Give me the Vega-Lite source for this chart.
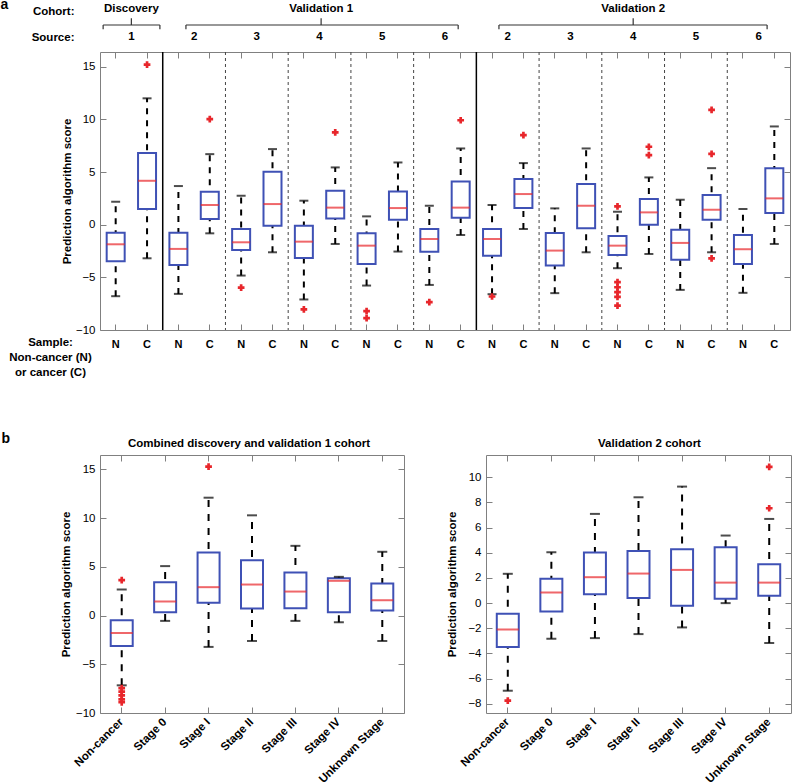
{
  "$schema": "https://vega.github.io/schema/vega-lite/v6.json",
  "padding": {"top": -3, "left": 0, "right": 0, "bottom": 0},
  "autosize": {"type": "pad"},
  "config": {
    "font": "Liberation Sans",
    "view": {"stroke": null},
    "axis": {"grid": false, "domainColor": "#808080", "tickColor": "#808080", "labelColor": "black", "titleColor": "black", "labelFont": "Liberation Sans", "titleFont": "Liberation Sans", "labelFontSize": 11.5, "domainWidth": 1, "tickWidth": 1},
    "title": {"font": "Liberation Sans", "fontSize": 11.5, "fontWeight": "bold", "color": "black"}
  },
  "datasets": {
    "boxA": [
      {"cat": "D1 N", "lo": -6.79, "q1": -3.47, "med": -1.86, "q3": -0.76, "hi": 2.18},
      {"cat": "D1 C", "lo": -3.19, "q1": 1.49, "med": 4.17, "q3": 6.82, "hi": 12.0},
      {"cat": "V1-2 N", "lo": -6.57, "q1": -3.82, "med": -2.30, "q3": -0.76, "hi": 3.67},
      {"cat": "V1-2 C", "lo": -0.82, "q1": 0.54, "med": 1.87, "q3": 3.13, "hi": 6.7},
      {"cat": "V1-3 N", "lo": -4.83, "q1": -2.40, "med": -1.67, "q3": -0.41, "hi": 2.75},
      {"cat": "V1-3 C", "lo": -2.62, "q1": -0.09, "med": 1.96, "q3": 5.02, "hi": 7.18},
      {"cat": "V1-4 N", "lo": -7.1, "q1": -3.16, "med": -1.61, "q3": -0.09, "hi": 2.28},
      {"cat": "V1-4 C", "lo": -1.83, "q1": 0.58, "med": 1.62, "q3": 3.23, "hi": 5.44},
      {"cat": "V1-5 N", "lo": -5.78, "q1": -3.73, "med": -1.99, "q3": -0.82, "hi": 0.79},
      {"cat": "V1-5 C", "lo": -2.55, "q1": 0.48, "med": 1.58, "q3": 3.16, "hi": 5.91},
      {"cat": "V1-6 N", "lo": -5.72, "q1": -2.56, "med": -1.36, "q3": -0.41, "hi": 1.8},
      {"cat": "V1-6 C", "lo": -0.98, "q1": 0.67, "med": 1.62, "q3": 4.11, "hi": 7.24},
      {"cat": "V2-2 N", "lo": -6.6, "q1": -2.94, "med": -1.36, "q3": -0.41, "hi": 1.87},
      {"cat": "V2-2 C", "lo": -0.41, "q1": 1.58, "med": 2.91, "q3": 4.33, "hi": 5.85},
      {"cat": "V2-3 N", "lo": -6.5, "q1": -3.88, "med": -2.46, "q3": -0.79, "hi": 1.55},
      {"cat": "V2-3 C", "lo": -2.62, "q1": -0.34, "med": 1.8, "q3": 3.86, "hi": 7.24},
      {"cat": "V2-4 N", "lo": -4.13, "q1": -2.87, "med": -1.99, "q3": -1.07, "hi": 1.23},
      {"cat": "V2-4 C", "lo": -2.78, "q1": 0.0, "med": 1.17, "q3": 2.44, "hi": 4.49},
      {"cat": "V2-5 N", "lo": -6.19, "q1": -3.32, "med": -1.73, "q3": -0.47, "hi": 2.37},
      {"cat": "V2-5 C", "lo": -2.62, "q1": 0.47, "med": 1.42, "q3": 2.81, "hi": 5.37},
      {"cat": "V2-6 N", "lo": -6.47, "q1": -3.73, "med": -2.33, "q3": -0.98, "hi": 1.49},
      {"cat": "V2-6 C", "lo": -1.83, "q1": 1.11, "med": 2.5, "q3": 5.37, "hi": 9.33}
    ],
    "outA": [
      {"cat": "D1 C", "v": 15.2},
      {"cat": "V1-2 C", "v": 10.02},
      {"cat": "V1-3 N", "v": -5.97},
      {"cat": "V1-4 N", "v": -8.05},
      {"cat": "V1-4 C", "v": 8.76},
      {"cat": "V1-5 N", "v": -8.2},
      {"cat": "V1-5 N", "v": -8.87},
      {"cat": "V1-6 N", "v": -7.36},
      {"cat": "V1-6 C", "v": 9.92},
      {"cat": "V2-2 N", "v": -6.82},
      {"cat": "V2-2 C", "v": 8.5},
      {"cat": "V2-4 N", "v": 1.74},
      {"cat": "V2-4 N", "v": -5.46},
      {"cat": "V2-4 N", "v": -5.94},
      {"cat": "V2-4 N", "v": -6.41},
      {"cat": "V2-4 N", "v": -6.85},
      {"cat": "V2-4 N", "v": -7.68},
      {"cat": "V2-4 C", "v": 7.4},
      {"cat": "V2-4 C", "v": 6.6},
      {"cat": "V2-5 C", "v": 10.9},
      {"cat": "V2-5 C", "v": 6.73},
      {"cat": "V2-5 C", "v": -3.19}
    ],
    "boxB1": [
      {"cat": "Non-cancer", "lo": -7.16, "q1": -3.12, "med": -1.79, "q3": -0.48, "hi": 2.67},
      {"cat": "Stage 0", "lo": -0.55, "q1": 0.34, "med": 1.44, "q3": 3.42, "hi": 5.07},
      {"cat": "Stage I", "lo": -3.22, "q1": 1.3, "med": 2.91, "q3": 6.47, "hi": 12.09},
      {"cat": "Stage II", "lo": -2.61, "q1": 0.72, "med": 3.18, "q3": 5.68, "hi": 10.28},
      {"cat": "Stage III", "lo": -0.55, "q1": 0.75, "med": 2.46, "q3": 4.42, "hi": 7.15},
      {"cat": "Stage IV", "lo": -0.69, "q1": 0.34, "med": 3.56, "q3": 3.83, "hi": 3.97},
      {"cat": "Unknown Stage", "lo": -2.61, "q1": 0.51, "med": 1.57, "q3": 3.29, "hi": 6.54}
    ],
    "outB1": [
      {"cat": "Non-cancer", "v": 3.63},
      {"cat": "Non-cancer", "v": -7.45},
      {"cat": "Non-cancer", "v": -7.8},
      {"cat": "Non-cancer", "v": -8.2},
      {"cat": "Non-cancer", "v": -8.6},
      {"cat": "Non-cancer", "v": -8.9},
      {"cat": "Stage I", "v": 15.27}
    ],
    "boxB2": [
      {"cat": "Non-cancer", "lo": -6.96, "q1": -3.49, "med": -2.09, "q3": -0.85, "hi": 2.33},
      {"cat": "Stage 0", "lo": -2.83, "q1": -0.67, "med": 0.84, "q3": 1.93, "hi": 4.05},
      {"cat": "Stage I", "lo": -2.78, "q1": 0.71, "med": 2.06, "q3": 4.02, "hi": 7.09},
      {"cat": "Stage II", "lo": -2.46, "q1": 0.4, "med": 2.35, "q3": 4.15, "hi": 8.41},
      {"cat": "Stage III", "lo": -1.93, "q1": -0.21, "med": 2.64, "q3": 4.28, "hi": 9.26},
      {"cat": "Stage IV", "lo": 0.0, "q1": 0.34, "med": 1.63, "q3": 4.44, "hi": 5.37},
      {"cat": "Unknown Stage", "lo": -3.17, "q1": 0.58, "med": 1.63, "q3": 3.09, "hi": 6.69}
    ],
    "outB2": [
      {"cat": "Non-cancer", "v": -7.75},
      {"cat": "Unknown Stage", "v": 10.82},
      {"cat": "Unknown Stage", "v": 7.54}
    ],
    "cohorts": [
      {"cohort": "Discovery", "start": 0.1, "end": 1.91, "mid": 1.0},
      {"cohort": "Validation 1", "start": 2.74, "end": 11.42, "mid": 7.05},
      {"cohort": "Validation 2", "start": 12.72, "end": 21.27, "mid": 17.0}
    ],
    "sources": [
      {"grp": "D1", "src": "1"}, {"grp": "V1-2", "src": "2"}, {"grp": "V1-3", "src": "3"}, {"grp": "V1-4", "src": "4"}, {"grp": "V1-5", "src": "5"}, {"grp": "V1-6", "src": "6"},
      {"grp": "V2-2", "src": "2"}, {"grp": "V2-3", "src": "3"}, {"grp": "V2-4", "src": "4"}, {"grp": "V2-5", "src": "5"}, {"grp": "V2-6", "src": "6"}
    ]
  },
  "bounds": "flush",
  "spacing": 2,
  "vconcat": [
    {
      "width": 690,
      "height": 50,
      "data": {"name": "cohorts"},
      "layer": [
        {
          "mark": {"type": "rule", "color": "#333", "strokeWidth": 1.2},
          "encoding": {
            "x": {"field": "start", "type": "quantitative", "scale": {"domain": [0, 22], "nice": false, "zero": false}, "axis": null},
            "x2": {"field": "end"},
            "y": {"datum": 0.5, "type": "quantitative", "scale": {"domain": [0, 1], "nice": false, "zero": false},
              "axis": {"orient": "left", "values": [0.72, 0.2], "labelExpr": "datum.value > 0.5 ? 'Cohort:' : 'Source:'", "domain": false, "ticks": false, "labelPadding": 26, "labelBaseline": "alphabetic", "labelFontWeight": "bold", "labelFontSize": 11.5, "labelFlush": false, "title": "a", "titleAngle": 0, "titleX": -100, "titleY": 8, "titleAlign": "left", "titleBaseline": "alphabetic", "titleFontSize": 14, "titleFontWeight": "bold"}}
          }
        },
        {
          "transform": [{"fold": ["start", "end"], "as": ["side", "pos"]}],
          "mark": {"type": "rule", "color": "#333", "strokeWidth": 1.2},
          "encoding": {
            "x": {"field": "pos", "type": "quantitative", "scale": {"domain": [0, 22], "nice": false, "zero": false}, "axis": null},
            "y": {"datum": 0.5, "type": "quantitative"},
            "y2": {"datum": 0.414}
          }
        },
        {
          "mark": {"type": "rule", "color": "#333", "strokeWidth": 1.2},
          "encoding": {
            "x": {"field": "mid", "type": "quantitative", "scale": {"domain": [0, 22], "nice": false, "zero": false}, "axis": null},
            "y": {"datum": 0.5, "type": "quantitative"},
            "y2": {"datum": 0.634}
          }
        },
        {
          "mark": {"type": "text", "fontWeight": "bold", "fontSize": 11.5, "baseline": "alphabetic", "align": "center", "color": "black"},
          "encoding": {
            "x": {"field": "mid", "type": "quantitative", "scale": {"domain": [0, 22], "nice": false, "zero": false}, "axis": null},
            "y": {"datum": 0.76, "type": "quantitative"},
            "text": {"field": "cohort"}
          }
        },
        {
          "data": {"name": "sources"},
          "mark": {"type": "text", "fontWeight": "bold", "fontSize": 11.5, "baseline": "alphabetic", "align": "center", "color": "black"},
          "encoding": {
            "x": {"field": "grp", "type": "nominal", "sort": null, "scale": {"type": "band", "domain": ["D1", "V1-2", "V1-3", "V1-4", "V1-5", "V1-6", "V2-2", "V2-3", "V2-4", "V2-5", "V2-6"], "paddingInner": 0, "paddingOuter": 0}, "axis": null},
            "y": {"datum": 0.2, "type": "quantitative"},
            "text": {"field": "src"}
          }
        }
      ],
      "resolve": {"scale": {"x": "independent"}}
    },
    {
      "width": 690,
      "height": 278,
      "encoding": {
        "x": {"field": "cat", "type": "nominal", "scale": {"type": "band", "domain": ["D1 N", "D1 C", "V1-2 N", "V1-2 C", "V1-3 N", "V1-3 C", "V1-4 N", "V1-4 C", "V1-5 N", "V1-5 C", "V1-6 N", "V1-6 C", "V2-2 N", "V2-2 C", "V2-3 N", "V2-3 C", "V2-4 N", "V2-4 C", "V2-5 N", "V2-5 C", "V2-6 N", "V2-6 C"], "paddingInner": 0, "paddingOuter": 0}, "axis": null}
      },
      "layer": [
        {
          "data": {"values": [{"cat": "V1-3 N"}, {"cat": "V1-4 N"}, {"cat": "V1-5 N"}, {"cat": "V1-6 N"}, {"cat": "V2-3 N"}, {"cat": "V2-4 N"}, {"cat": "V2-5 N"}, {"cat": "V2-6 N"}]},
          "mark": {"type": "rule", "color": "#444", "strokeWidth": 1, "strokeDash": [3, 3]},
          "encoding": {"x": {"field": "cat", "type": "nominal", "bandPosition": 0, "axis": null}}
        },
        {
          "data": {"values": [{"cat": "V1-2 N"}, {"cat": "V2-2 N"}]},
          "mark": {"type": "rule", "color": "black", "strokeWidth": 1.5},
          "encoding": {"x": {"field": "cat", "type": "nominal", "bandPosition": 0, "axis": null}}
        },
        {
          "data": {"name": "boxA"},
          "mark": {"type": "rule", "color": "black", "strokeWidth": 2, "strokeDash": [6, 6]},
          "encoding": {
            "x": {"field": "cat", "type": "nominal", "axis": {"orient": "bottom", "labelExpr": "slice(datum.value, -1)", "labelAngle": 0, "labelFontWeight": "bold", "labelFontSize": 11, "labelBaseline": "top", "labelPadding": 14, "tickSize": -6, "title": ["Sample:", "Non-cancer (N)", "or cancer (C)"], "titleX": -50, "titleY": 6, "titleAlign": "center", "titleBaseline": "top", "titleFontWeight": "bold", "titleFontSize": 11.5, "titleLineHeight": 15}},
            "y": {"field": "lo", "type": "quantitative", "scale": {"domain": [-10, 16.4], "nice": false, "zero": false},
              "axis": {"orient": "left", "values": [-10, -5, 0, 5, 10, 15], "tickSize": -6, "labelPadding": 11, "title": "Prediction algorithm score", "titleFontWeight": "bold", "titleFontSize": 11.5, "titleX": -33, "titleY": 139, "titleAngle": -90, "titleAlign": "center", "titleBaseline": "middle"}},
            "y2": {"field": "hi"}
          }
        },
        {
          "data": {"name": "boxA"},
          "mark": {"type": "bar", "size": 18, "fill": "white", "stroke": "#3f51b5", "strokeWidth": 2},
          "encoding": {
            "x": {"field": "cat", "type": "nominal", "axis": {"orient": "top", "labels": false, "tickSize": -6, "title": null}},
            "y": {"field": "q1", "type": "quantitative", "axis": {"orient": "right", "values": [-10, -5, 0, 5, 10, 15], "labels": false, "tickSize": -6, "title": null}},
            "y2": {"field": "q3"}
          }
        },
        {
          "data": {"name": "boxA"},
          "mark": {"type": "tick", "color": "#e8262b", "thickness": 2, "size": 18},
          "encoding": {"y": {"field": "med", "type": "quantitative", "axis": null}}
        },
        {
          "data": {"name": "boxA"},
          "mark": {"type": "tick", "color": "black", "thickness": 2, "size": 9},
          "encoding": {"y": {"field": "hi", "type": "quantitative", "axis": null}}
        },
        {
          "data": {"name": "boxA"},
          "mark": {"type": "tick", "color": "black", "thickness": 2, "size": 9},
          "encoding": {"y": {"field": "lo", "type": "quantitative", "axis": null}}
        },
        {
          "data": {"name": "outA"},
          "mark": {"type": "point", "shape": "cross", "filled": true, "color": "#e8262b", "size": 45, "opacity": 1},
          "encoding": {"y": {"field": "v", "type": "quantitative", "axis": null}}
        }
      ],
      "resolve": {"axis": {"x": "independent", "y": "independent"}}
    },
    {
      "width": 690,
      "height": 121,
      "data": {"values": []},
      "mark": "point"
    },
    {
      "bounds": "flush",
      "spacing": 82,
      "hconcat": [
        {
          "width": 304,
          "height": 258,
          "title": {"text": "Combined discovery and validation 1 cohort", "frame": "group", "anchor": "middle", "baseline": "alphabetic", "offset": -27, "dx": -3},
          "encoding": {
            "x": {"field": "cat", "type": "nominal", "scale": {"type": "band", "domain": ["Non-cancer", "Stage 0", "Stage I", "Stage II", "Stage III", "Stage IV", "Unknown Stage"], "paddingInner": 0, "paddingOuter": 0}, "axis": null}
          },
          "layer": [
            {
              "data": {"name": "boxB1"},
              "mark": {"type": "rule", "color": "black", "strokeWidth": 2, "strokeDash": [7, 7]},
              "encoding": {
                "x": {"field": "cat", "type": "nominal", "axis": {"orient": "bottom", "labelAngle": -45, "labelAlign": "right", "labelBaseline": "middle", "labelFontWeight": "bold", "labelFontSize": 11.5, "labelPadding": 13, "tickSize": -6, "labelOverlap": false, "labelLimit": 0, "title": null}},
                "y": {"field": "lo", "type": "quantitative", "scale": {"domain": [-10, 16.47], "nice": false, "zero": false},
                  "axis": {"orient": "left", "values": [-10, -5, 0, 5, 10, 15], "tickSize": -6, "labelPadding": 11, "title": "Prediction algorithm score", "titleFontWeight": "bold", "titleFontSize": 11.5, "titleX": -34, "titleY": 129, "titleAngle": -90, "titleAlign": "center", "titleBaseline": "middle"}},
                "y2": {"field": "hi"}
              }
            },
            {
              "data": {"name": "boxB1"},
              "mark": {"type": "bar", "size": 22, "fill": "white", "stroke": "#3f51b5", "strokeWidth": 2},
              "encoding": {
                "x": {"field": "cat", "type": "nominal", "axis": {"orient": "top", "labels": false, "tickSize": -6, "title": "b", "titleX": -99, "titleY": -13, "titleAngle": 0, "titleAlign": "left", "titleBaseline": "alphabetic", "titleFontSize": 14, "titleFontWeight": "bold"}},
                "y": {"field": "q1", "type": "quantitative", "axis": {"orient": "right", "values": [-10, -5, 0, 5, 10, 15], "labels": false, "tickSize": -6, "title": null}},
                "y2": {"field": "q3"}
              }
            },
            {
              "data": {"name": "boxB1"},
              "mark": {"type": "tick", "color": "#e8262b", "thickness": 2, "size": 22},
              "encoding": {"y": {"field": "med", "type": "quantitative", "axis": null}}
            },
            {
              "data": {"name": "boxB1"},
              "mark": {"type": "tick", "color": "black", "thickness": 2, "size": 10},
              "encoding": {"y": {"field": "hi", "type": "quantitative", "axis": null}}
            },
            {
              "data": {"name": "boxB1"},
              "mark": {"type": "tick", "color": "black", "thickness": 2, "size": 10},
              "encoding": {"y": {"field": "lo", "type": "quantitative", "axis": null}}
            },
            {
              "data": {"name": "outB1"},
              "mark": {"type": "point", "shape": "cross", "filled": true, "color": "#e8262b", "size": 45, "opacity": 1},
              "encoding": {"y": {"field": "v", "type": "quantitative", "axis": null}}
            }
          ],
          "resolve": {"axis": {"x": "independent", "y": "independent"}}
        },
        {
          "width": 305,
          "height": 258,
          "title": {"text": "Validation 2 cohort", "frame": "group", "anchor": "middle", "baseline": "alphabetic", "offset": -4, "dx": 11},
          "encoding": {
            "x": {"field": "cat", "type": "nominal", "scale": {"type": "band", "domain": ["Non-cancer", "Stage 0", "Stage I", "Stage II", "Stage III", "Stage IV", "Unknown Stage"], "paddingInner": 0, "paddingOuter": 0}, "axis": null}
          },
          "layer": [
            {
              "data": {"name": "boxB2"},
              "mark": {"type": "rule", "color": "black", "strokeWidth": 2, "strokeDash": [7, 7]},
              "encoding": {
                "x": {"field": "cat", "type": "nominal", "axis": {"orient": "bottom", "labelAngle": -45, "labelAlign": "right", "labelBaseline": "middle", "labelFontWeight": "bold", "labelFontSize": 11.5, "labelPadding": 13, "tickSize": -6, "labelOverlap": false, "labelLimit": 0, "title": null}},
                "y": {"field": "lo", "type": "quantitative", "scale": {"domain": [-8.73, 11.77], "nice": false, "zero": false},
                  "axis": {"orient": "left", "values": [-8, -6, -4, -2, 0, 2, 4, 6, 8, 10], "tickSize": -6, "labelPadding": 11, "title": "Prediction algorithm score", "titleFontWeight": "bold", "titleFontSize": 11.5, "titleX": -34, "titleY": 129, "titleAngle": -90, "titleAlign": "center", "titleBaseline": "middle"}},
                "y2": {"field": "hi"}
              }
            },
            {
              "data": {"name": "boxB2"},
              "mark": {"type": "bar", "size": 22, "fill": "white", "stroke": "#3f51b5", "strokeWidth": 2},
              "encoding": {
                "x": {"field": "cat", "type": "nominal", "axis": {"orient": "top", "labels": false, "tickSize": -6, "title": null}},
                "y": {"field": "q1", "type": "quantitative", "axis": {"orient": "right", "values": [-8, -6, -4, -2, 0, 2, 4, 6, 8, 10], "labels": false, "tickSize": -6, "title": null}},
                "y2": {"field": "q3"}
              }
            },
            {
              "data": {"name": "boxB2"},
              "mark": {"type": "tick", "color": "#e8262b", "thickness": 2, "size": 22},
              "encoding": {"y": {"field": "med", "type": "quantitative", "axis": null}}
            },
            {
              "data": {"name": "boxB2"},
              "mark": {"type": "tick", "color": "black", "thickness": 2, "size": 10},
              "encoding": {"y": {"field": "hi", "type": "quantitative", "axis": null}}
            },
            {
              "data": {"name": "boxB2"},
              "mark": {"type": "tick", "color": "black", "thickness": 2, "size": 10},
              "encoding": {"y": {"field": "lo", "type": "quantitative", "axis": null}}
            },
            {
              "data": {"name": "outB2"},
              "mark": {"type": "point", "shape": "cross", "filled": true, "color": "#e8262b", "size": 45, "opacity": 1},
              "encoding": {"y": {"field": "v", "type": "quantitative", "axis": null}}
            }
          ],
          "resolve": {"axis": {"x": "independent", "y": "independent"}}
        }
      ]
    }
  ]
}
